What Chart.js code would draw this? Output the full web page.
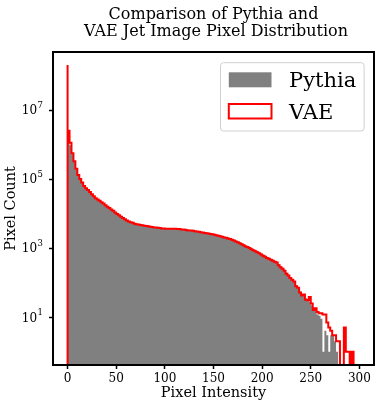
<!DOCTYPE html>
<html>
<head>
<meta charset="utf-8">
<script src="https://cdn.jsdelivr.net/npm/chart.js@4/dist/chart.umd.min.js"></script>
<style>
  html, body { margin: 0; padding: 0; background: #fff; }
</style>
</head>
<body>
<canvas id="histChart" width="382" height="409"></canvas>
<script>
/* histogram data, bins of width 2 starting at 0 */
const binStart = 0;
const binWidth = 2;

const pythiaCounts = [
  1.9e8, 1.6e6, 9.5e5, 5.2e5, 3.1e5, 1.9e5, 1.28e5, 9.7e4, 7.7e4, 6.2e4,
  5.3e4, 4.7e4, 4.1e4, 3.55e4, 3.15e4, 2.78e4, 2.55e4, 2.33e4, 2.13e4, 1.94e4,
  1.74e4, 1.58e4, 1.46e4, 1.33e4, 1.21e4, 1.08e4, 9900, 9000, 8200, 7500,
  6900, 6400, 6000, 5700, 5450, 5200, 5000, 4850, 4750, 4650,
  4520, 4420, 4320, 4220, 4120, 4030, 4020, 3940, 3850, 3780,
  3770, 3690, 3690, 3700, 3690, 3700, 3690, 3620, 3610, 3540,
  3540, 3460, 3390, 3320, 3320, 3250, 3170, 3110, 3040, 2970,
  2910, 2850, 2790, 2730, 2670, 2610, 2550, 2450, 2400, 2300,
  2250, 2150, 2110, 2020, 1930, 1850, 1770, 1660, 1590, 1480,
  1390, 1290, 1210, 1150, 1080, 1000, 940, 880, 820, 770,
  700, 650, 610, 565, 530, 495, 465, 430, 405, 345,
  300, 270, 235, 195, 170, 145, 128, 112, 85, 68,
  55, 45, 40, 35, 30, 28, 22, 18, 15, 12,
  11, 9, 1, 4, 3, 1, 3, 3, 2, 1,
  0, 0, 0, 0, 0, 0, 0, 0, 0, 0
];

const vaeCounts = [
  2.0e8, 2.5e6, 1.12e6, 5.6e5, 3.3e5, 2.0e5, 1.32e5, 1.0e5, 7.9e4, 6.3e4,
  5.4e4, 4.8e4, 4.2e4, 3.6e4, 3.2e4, 2.8e4, 2.57e4, 2.34e4, 2.14e4, 1.95e4,
  1.74e4, 1.58e4, 1.45e4, 1.32e4, 1.20e4, 1.07e4, 9800, 8900, 8100, 7400,
  6800, 6300, 5900, 5600, 5400, 5100, 4900, 4800, 4700, 4600,
  4470, 4370, 4270, 4170, 4070, 3980, 3980, 3890, 3800, 3720,
  3720, 3630, 3630, 3630, 3630, 3630, 3630, 3550, 3550, 3470,
  3470, 3390, 3310, 3240, 3240, 3160, 3090, 3020, 2950, 2880,
  2820, 2750, 2690, 2630, 2570, 2510, 2450, 2340, 2290, 2190,
  2140, 2040, 2000, 1910, 1820, 1740, 1660, 1550, 1480, 1380,
  1290, 1200, 1120, 1070, 1000, 930, 870, 810, 760, 710,
  650, 600, 560, 520, 490, 460, 430, 400, 380, 320,
  280, 250, 220, 180, 160, 135, 120, 107, 79, 71,
  52, 42, 45, 32, 31, 38, 25, 16, 18, 14,
  13, 13, 12, 12, 7, 5, 4, 3, 3, 2,
  2, 0, 0, 5, 1, 1, 0, 1, 0, 0
];

const xTicks     = [0, 50, 100, 150, 200, 250, 300];
const yTicks     = [1e1, 1e3, 1e5, 1e7];
const yTickExps  = ['1', '3', '5', '7'];
const seriesNames = ['Pythia', 'VAE'];
const titleLines  = ['Comparison of Pythia and', ' VAE Jet Image Pixel Distribution'];

const FONT = '"DejaVu Serif", "Liberation Serif", serif';
const floorY = 0.05; // below the axis min, so empty bins drop off the plot

// outline of a histogram as stepped points (edge, count)
function stepPoints(counts) {
  const pts = [{ x: binStart, y: floorY }];
  counts.forEach((c, i) => pts.push({ x: binStart + i * binWidth, y: c > 0 ? c : floorY }));
  pts.push({ x: binStart + counts.length * binWidth, y: floorY });
  return pts;
}

const frameAndLegend = {
  id: 'frameAndLegend',
  afterDraw(chart) {
    const { ctx, chartArea: a } = chart;
    ctx.save();

    // title
    const cx = (a.left + a.right) / 2;
    ctx.fillStyle = '#000';
    ctx.font = '16px ' + FONT;
    ctx.textAlign = 'center';
    ctx.textBaseline = 'alphabetic';
    titleLines.forEach((t, i) => ctx.fillText(t, cx, 18.5 + i * 17.7));

    // y tick labels as 10 with a raised exponent
    const ys = chart.scales.y;
    const xr = a.left - 10;
    yTicks.forEach((v, i) => {
      const y = ys.getPixelForValue(v);
      ctx.textAlign = 'right';
      ctx.font = '8.5px ' + FONT;
      const ew = ctx.measureText(yTickExps[i]).width;
      ctx.fillText(yTickExps[i], xr, y - 2);
      ctx.font = '12px ' + FONT;
      ctx.fillText('10', xr - ew - 0.5, y + 4.4);
    });

    // legend box
    const bx = a.right - 153.5, by = a.top + 10.7, bw = 143.6, bh = 68.3;
    ctx.beginPath();
    ctx.roundRect(bx, by, bw, bh, 3);
    ctx.fillStyle = 'rgba(255,255,255,0.8)';
    ctx.fill();
    ctx.strokeStyle = '#d0d0d0';
    ctx.lineWidth = 1;
    ctx.stroke();

    const px = bx + 8.3, pw = 42.7, ph = 15;
    ctx.fillStyle = '#808080';
    ctx.fillRect(px, by + 9.6, pw, ph);
    ctx.strokeStyle = '#ff0000';
    ctx.lineWidth = 2;
    ctx.strokeRect(px, by + 41.3, pw, ph - 0.5);

    ctx.fillStyle = '#000';
    ctx.font = '21px ' + FONT;
    ctx.textAlign = 'left';
    ctx.textBaseline = 'alphabetic';
    ctx.fillText(seriesNames[0], bx + 68.6, by + 24);
    ctx.fillText(seriesNames[1], bx + 68.6, by + 56.3);

    // axes frame
    ctx.strokeStyle = '#000';
    ctx.lineWidth = 2;
    ctx.strokeRect(a.left, a.top, a.right - a.left, a.bottom - a.top);
    ctx.restore();
  }
};

Chart.defaults.font.family = FONT;
Chart.defaults.color = '#000';

new Chart(document.getElementById('histChart'), {
  type: 'line',
  data: {
    datasets: [
      {
        label: seriesNames[0],
        data: stepPoints(pythiaCounts),
        stepped: 'after',
        borderWidth: 0,
        borderColor: 'rgba(0,0,0,0)',
        backgroundColor: '#808080',
        fill: 'start',
        pointRadius: 0,
        clip: 0,
        order: 2
      },
      {
        label: seriesNames[1],
        data: stepPoints(vaeCounts),
        stepped: 'after',
        borderWidth: 2,
        borderColor: '#ff0000',
        backgroundColor: 'rgba(0,0,0,0)',
        fill: false,
        pointRadius: 0,
        clip: 0,
        order: 1
      }
    ]
  },
  options: {
    responsive: false,
    animation: false,
    events: [],
    layout: { padding: { top: 52, right: 8, bottom: 0, left: 0 } },
    plugins: {
      legend: { display: false },
      title: { display: false },
      tooltip: { enabled: false }
    },
    scales: {
      x: {
        type: 'linear',
        min: -15,
        max: 315,
        afterBuildTicks: s => { s.ticks = xTicks.map(v => ({ value: v })); },
        afterFit: s => { s.height = 44; },
        border: { display: false },
        grid: { drawOnChartArea: false, drawTicks: true, tickLength: 4, tickWidth: 1.5, tickColor: '#000' },
        ticks: { color: '#000', font: { size: 12 }, padding: 3, maxRotation: 0, autoSkip: false },
        title: { display: true, text: 'Pixel Intensity', color: '#000', font: { size: 14.5 }, padding: { top: 0, bottom: 7 } }
      },
      y: {
        type: 'logarithmic',
        min: 0.41,
        max: 4.8e8,
        afterBuildTicks: s => { s.ticks = yTicks.map(v => ({ value: v })); },
        afterFit: s => { s.width = 53; },
        border: { display: false },
        grid: { drawOnChartArea: false, drawTicks: true, tickLength: 4, tickWidth: 1.5, tickColor: '#000' },
        ticks: { color: '#000', font: { size: 12 }, padding: 6, autoSkip: false, callback: () => '' },
        title: { display: true, text: 'Pixel Count', color: '#000', font: { size: 14.5 }, padding: { top: 3, bottom: 0 } }
      }
    }
  },
  plugins: [frameAndLegend]
});
</script>
</body>
</html>
